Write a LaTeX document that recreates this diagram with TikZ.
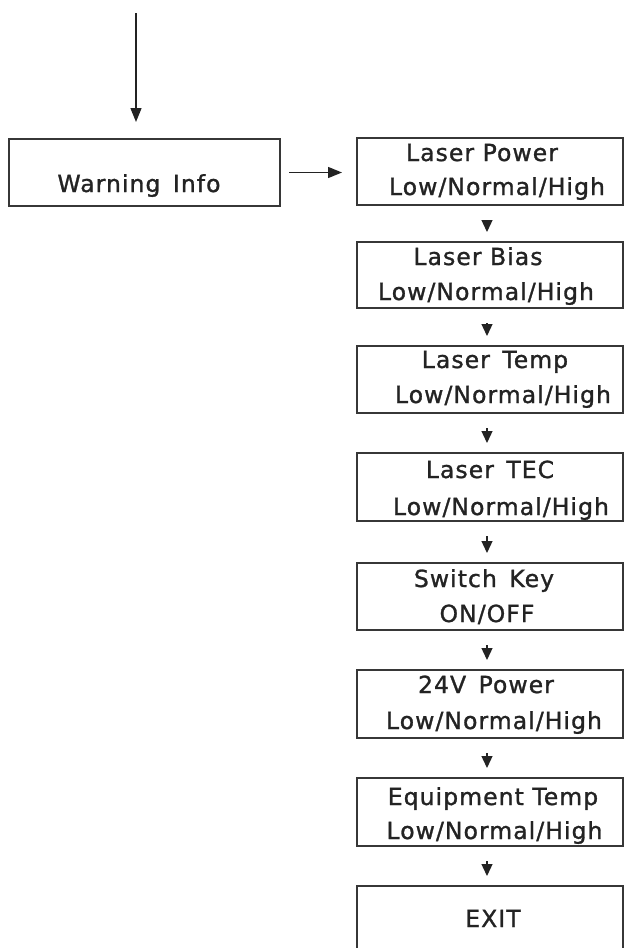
\documentclass[tikz,border=0pt]{standalone}
\usepackage{fontspec}
\setmainfont{DejaVu Sans}[LetterSpace=4.5, FakeBold=1.2]
\usetikzlibrary{arrows.meta}
\definecolor{ink}{RGB}{35,35,35}
\definecolor{frame}{RGB}{55,55,55}
\tikzset{
  box/.style={draw=frame, line width=2pt, minimum width=266pt, inner sep=0pt, outer sep=0pt},
  txt/.style={anchor=base, inner sep=0pt, outer sep=0pt, text=ink, font=\fontsize{23.5}{27}\selectfont},
  tinyarrow/.style={draw=ink, line width=1.3pt, -{Triangle[width=11pt,length=12pt]}},
  bigarrow/.style={draw=ink, line width=1.4pt, -{Triangle[width=11pt,length=14pt]}}
}
\begin{document}
\begin{tikzpicture}[x=1pt,y=-1pt]
\useasboundingbox[fill=white] (0,0) rectangle (624,948);
\clip (0,0) rectangle (624,948);

% left box
\node[box, minimum width=271pt, minimum height=67pt] (W) at (144.5,172.5) {};
\node[txt] (Wt) at (139,192) {Warning\, Info};

% right column boxes
\node[box, minimum height=67pt] (P) at (490,171.5) {};
\node[box, minimum height=66pt] (B) at (490,275) {};
\node[box, minimum height=67pt] (T) at (490,379.5) {};
\node[box, minimum height=68pt] (C) at (490,487) {};
\node[box, minimum height=67pt] (S) at (490,596.5) {};
\node[box, minimum height=68pt] (V) at (490,704) {};
\node[box, minimum height=68pt] (E) at (490,812) {};
\node[box, minimum height=104pt] (X) at (490,938) {};

% texts
\node[txt] (P1) at (482,161) {Laser Power};
\node[txt] (P2) at (497,195) {Low/Normal/High};
\node[txt] (B1) at (478,265) {Laser Bias};
\node[txt] (B2) at (486,300) {Low/Normal/High};
\node[txt] (T1) at (495,368) {Laser\, Temp};
\node[txt] (T2) at (503,403) {Low/Normal/High};
\node[txt] (C1) at (490,478) {Laser\, TEC};
\node[txt] (C2) at (501,515) {Low/Normal/High};
\node[txt] (S1) at (484,587) {Switch\, Key};
\node[txt] (S2) at (487,622) {ON/OFF};
\node[txt] (V1) at (486,693) {24V\, Power};
\node[txt] (V2) at (494,729) {Low/Normal/High};
\node[txt] (E1) at (493,805) {Equipment Temp};
\node[txt] (E2) at (494.5,839) {Low/Normal/High};
\node[txt] (X1) at (493,927) {EXIT};

% connectors
\coordinate (start) at (136,13);
\coordinate (ax) at (487,0);
\draw[bigarrow, shorten >=17pt] (start) -- (start |- W.north);
\draw[bigarrow, shorten <=9pt, shorten >=15pt] (W.east) -- (W.east -| P.west);
\foreach \a/\b in {P/B,B/T,T/C,C/S,S/V,V/E,E/X}
  \draw[tinyarrow, shorten <=15pt, shorten >=10pt] (\a.south -| ax) -- (\b.north -| ax);
\end{tikzpicture}
\end{document}
